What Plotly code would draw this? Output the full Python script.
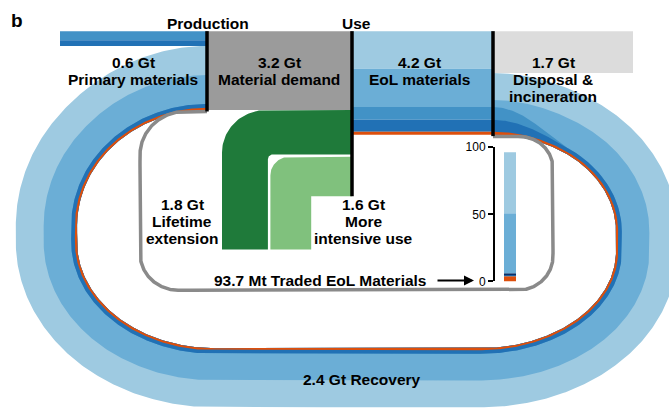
import numpy as np
import plotly.graph_objects as go

# ---------------- flows (Gt) ----------------
primary_gt = 0.6
demand_gt = 3.2
eol_gt = 4.2
disposal_gt = 1.7
recovery_gt = 2.4
lifetime_gt = 1.8
intensive_gt = 1.6
traded_mt = 93.7

# material mix of the end-of-life stock (top to bottom: light, medium, deep, dark, orange)
eol_mix = [0.362, 0.371, 0.124, 0.114, 0.029]
# material mix of the recovery loop (outer to inner: light, medium, deep, dark, orange)
recovery_mix = [0.455, 0.45, 0.0, 0.06, 0.035]
# primary supply mix (top to bottom: deep, dark)
primary_mix = [0.62, 0.38]
# shares of traded EoL materials in % (bottom to top)
traded_share = [4.1, 0.5, 0.7, 0.8, 44.6, 45.5]
traded_ticks = [0, 50, 100]

# ---------------- style ----------------
LIGHT, MEDIUM, DEEP, DARK, NAVY, ORANGE = "#9ecae1", "#6baed6", "#4292c6", "#2171b5", "#08306b", "#dd4f0c"
mix_colors = [LIGHT, MEDIUM, DEEP, DARK, ORANGE]
primary_colors = [DEEP, DARK]
traded_colors = [ORANGE, "white", DARK, NAVY, MEDIUM, LIGHT]
DEMAND_GRAY, DISPOSAL_GRAY, LOOP_GRAY = "#9b9b9b", "#dcdcdc", "#8a8a8a"
GREEN_DARK, GREEN_LIGHT = "#1f7a3a", "#80c17d"
FONT = "Liberation Sans, Arial, sans-serif"

W, H = 669, 418
S = 25.5          # pixels per Gt
TOP = 25          # top of the node row
X_PRIM0, X_PROD, X_USE0, X_USE1, X_DISP1 = 60, 207, 352, 493, 633

fig = go.Figure()


def poly(x, y, color):
    fig.add_trace(go.Scatter(x=list(x), y=list(y), mode="lines", fill="toself",
                             fillcolor=color, line=dict(width=0, color=color),
                             hoverinfo="skip", showlegend=False))


def ell(cx, cy, rx, ry, t0, t1, n=140):
    t = np.linspace(t0, t1, n)
    sgn = 1.0 if t1 >= t0 else -1.0
    return (cx + rx * np.cos(t), cy + ry * np.sin(t),
            -rx * np.sin(t) * sgn, ry * np.cos(t) * sgn)


def seg(x0, y0, x1, y1, n=30):
    return (np.linspace(x0, x1, n), np.linspace(y0, y1, n),
            np.full(n, x1 - x0, dtype=float), np.full(n, y1 - y0, dtype=float))


def join(pieces):
    xs = np.concatenate([p[0] for p in pieces])
    ys = np.concatenate([p[1] for p in pieces])
    tx = np.concatenate([p[2] for p in pieces])
    ty = np.concatenate([p[3] for p in pieces])
    n = np.hypot(tx, ty)
    n[n == 0] = 1
    return xs, ys, tx / n, ty / n


# ---------------- recovery loop ----------------
y_right = TOP + eol_gt * S       # inner edge where the loop leaves the Use node
y_left = TOP + demand_gt * S     # inner edge where the loop enters Production
Y_BOT, X_RIGHT, X_LEFT = 353, 616, 77
tr_ry, br = 100, (480, 253, 136, 100)
bl, tl_ry = (215, 243, 138, 110), 120

pieces = [
    ell(X_USE1, y_right + tr_ry, X_RIGHT - X_USE1, tr_ry, -np.pi / 2, 0),
    seg(X_RIGHT, y_right + tr_ry, X_RIGHT, br[1]),
    ell(br[0], br[1], br[2], br[3], 0, np.pi / 2),
    seg(br[0], Y_BOT, bl[0], Y_BOT),
    ell(bl[0], bl[1], bl[2], bl[3], np.pi / 2, np.pi),
    seg(X_LEFT, bl[1], X_LEFT, y_left + tl_ry),
    ell(X_PROD, y_left + tl_ry, X_PROD - X_LEFT, tl_ry, np.pi, 1.5 * np.pi),
]
px, py, tx, ty = join(pieces)
nx, ny = ty, -tx                      # outward normal
arc = np.concatenate([[0], np.cumsum(np.hypot(np.diff(px), np.diff(py)))])
L = arc[-1]

inner_to_outer = list(range(4, -1, -1))   # orange, dark, deep, medium, light
steady = {k: recovery_mix[k] * recovery_gt * S for k in range(5)}
end = {k: recovery_mix[k] * (demand_gt - primary_gt) * S for k in range(5)}
start = {4: eol_mix[4] * eol_gt * S, 3: eol_mix[3] * eol_gt * S,
         2: eol_mix[2] * eol_gt * S, 0: recovery_mix[0] * recovery_gt * S}
start[1] = (eol_gt - disposal_gt) * S - sum(start.values())


def smooth(a, b, u):
    v = np.clip((u - a) / (b - a), 0, 1)
    return v * v * (3 - 2 * v)


f_start = 1 - smooth(0, 75, arc)
f_end = smooth(L - 120, L, arc)
cum = np.zeros_like(arc)
offsets = {}
for k in inner_to_outer:
    w = steady[k] + (start[k] - steady[k]) * f_start + (end[k] - steady[k]) * f_end
    cum = cum + w
    offsets[k] = cum.copy()

for k in [0, 1, 2, 3, 4]:  # paint outermost first
    off = offsets[k]
    ox, oy = px + nx * off, py + ny * off
    poly(np.concatenate([ox, px[::-1]]), np.concatenate([oy, py[::-1]]), mix_colors[k])

# ---------------- gray trade loop ----------------
gl_left, gl_right, gl_bot = 140, 553, 293
gy0, gy1 = y_left + 1.5, y_right + 2
g = join([
    seg(X_PROD, gy0, gl_left + 45, gy0),
    ell(gl_left + 45, gy0 + 45, 45, 45, 1.5 * np.pi, np.pi),
    seg(gl_left, gy0 + 45, gl_left, gl_bot - 38),
    ell(gl_left + 38, gl_bot - 38, 38, 38, np.pi, np.pi / 2),
    seg(gl_left + 38, gl_bot, gl_right - 35, gl_bot),
    ell(gl_right - 35, gl_bot - 35, 35, 35, np.pi / 2, 0),
    seg(gl_right, gl_bot - 35, gl_right, gy1 + 33),
    ell(gl_right - 33, gy1 + 33, 33, 33, 0, -np.pi / 2),
    seg(gl_right - 33, gy1, X_USE1, gy1),
])
fig.add_trace(go.Scatter(x=g[0], y=g[1], mode="lines", line=dict(color=LOOP_GRAY, width=3.5),
                         hoverinfo="skip", showlegend=False))


# ---------------- green elbows ----------------
def elbow(x_right, y_top, th_h, x_left, th_v, y_bottom, r_out, r_in, color):
    xs, ys = [x_right, x_left + r_out], [y_top, y_top]
    a = ell(x_left + r_out, y_top + r_out, r_out, r_out, 1.5 * np.pi, np.pi, 40)
    xs += list(a[0]); ys += list(a[1])
    xs += [x_left, x_left + th_v]; ys += [y_bottom, y_bottom]
    if r_in > 0:
        b = ell(x_left + th_v + r_in, y_top + th_h + r_in, r_in, r_in, np.pi, 1.5 * np.pi, 20)
        xs += list(b[0]); ys += list(b[1])
    else:
        xs += [x_left + th_v]; ys += [y_top + th_h]
    xs += [x_right]; ys += [y_top + th_h]
    poly(xs, ys, color)


GAP, Y_GREEN_BOT, X_GREEN = 2.5, 251, 222
g1 = lifetime_gt * S
g2 = intensive_gt * S
elbow(X_USE0, y_left, g1, X_GREEN, g1, Y_GREEN_BOT, 44, 5, GREEN_DARK)
y2 = y_left + g1 + GAP
elbow(X_USE0, y2, g2, X_GREEN + g1 + GAP, g2, Y_GREEN_BOT, 19, 0, GREEN_LIGHT)


# ---------------- nodes (bars) ----------------
def stacked(x0, x1, total, mix, colors):
    base = TOP
    for share, col in zip(mix, colors):
        h = share * total * S
        if h <= 0:
            continue
        fig.add_trace(go.Bar(x=[(x0 + x1) / 2], y=[h], base=[base], width=[x1 - x0],
                             marker=dict(color=col, line=dict(width=0)),
                             hoverinfo="skip", showlegend=False))
        base += h


stacked(X_PRIM0, X_PROD, primary_gt, primary_mix, primary_colors)
stacked(X_PROD, X_USE0, demand_gt, [1.0], [DEMAND_GRAY])
stacked(X_USE0, X_USE1, eol_gt, eol_mix, mix_colors)
stacked(X_USE1, X_DISP1, disposal_gt, [1.0], [DISPOSAL_GRAY])

# black dividers
for xv, yb in [(X_PROD, y_left + 1.5), (X_USE0, y2 + g2), (X_USE1, y_right + 1.5)]:
    fig.add_trace(go.Scatter(x=[xv, xv], y=[TOP, yb], mode="lines",
                             line=dict(color="black", width=3.5),
                             hoverinfo="skip", showlegend=False))

# ---------------- traded EoL mini bar ----------------
base = 0
for v, col in zip(traded_share, traded_colors):
    fig.add_trace(go.Bar(x=[0], y=[v], base=[base], width=[0.8], xaxis="x2", yaxis="y2",
                         marker=dict(color=col, line=dict(width=0)),
                         hoverinfo="skip", showlegend=False))
    base += v

# ---------------- text ----------------
ann = []


def label(x, y, text, size=15.5, bold=True):
    ann.append(dict(x=x, y=y, xref="x", yref="y", text=f"<b>{text}</b>" if bold else text,
                    showarrow=False, xanchor="center", yanchor="middle",
                    font=dict(family=FONT, size=size, color="black")))


label(17, 14, "b", size=19)
label(208, 17, "Production")
label(356, 17, "Use")
label(133, 57, f"{primary_gt} Gt"); label(133, 75, "Primary materials")
label(279, 57, f"{demand_gt} Gt"); label(279, 75, "Material demand")
label(419, 57, f"{eol_gt} Gt"); label(419, 75, "EoL materials")
label(553, 57, f"{disposal_gt} Gt"); label(553, 75, "Disposal &"); label(553, 93, "incineration")
label(182, 204, f"{lifetime_gt} Gt"); label(182, 222, "Lifetime"); label(182, 240, "extension")
label(363, 204, f"{intensive_gt} Gt"); label(363, 222, "More"); label(363, 240, "intensive use")
label(320, 283, f"{traded_mt} Mt Traded EoL Materials")
label(362, 385, f"{recovery_gt} Gt Recovery")
ann.append(dict(x=474, y=283, ax=436, ay=283, xref="x", yref="y", axref="x", ayref="y",
                text="", showarrow=True, arrowhead=2, arrowsize=1, arrowwidth=2,
                arrowcolor="black"))

fig.update_layout(
    width=W, height=H, margin=dict(l=0, r=0, t=0, b=0),
    paper_bgcolor="white", plot_bgcolor="rgba(0,0,0,0)",
    barmode="overlay", showlegend=False, annotations=ann,
    xaxis=dict(range=[0, W], visible=False, fixedrange=True),
    yaxis=dict(range=[H, 0], visible=False, fixedrange=True),
    xaxis2=dict(domain=[495 / W, 525 / W], range=[-1, 1], anchor="y2", visible=False),
    yaxis2=dict(domain=[(H - 284) / H, (H - 145) / H], range=[0, 100], anchor="x2",
                tickvals=traded_ticks, ticks="outside", ticklen=5, tickwidth=2,
                tickcolor="black", showline=True, linewidth=2, linecolor="black",
                showgrid=False, zeroline=False,
                tickfont=dict(family=FONT, size=12, color="black")),
)

fig.write_html("out.html")
